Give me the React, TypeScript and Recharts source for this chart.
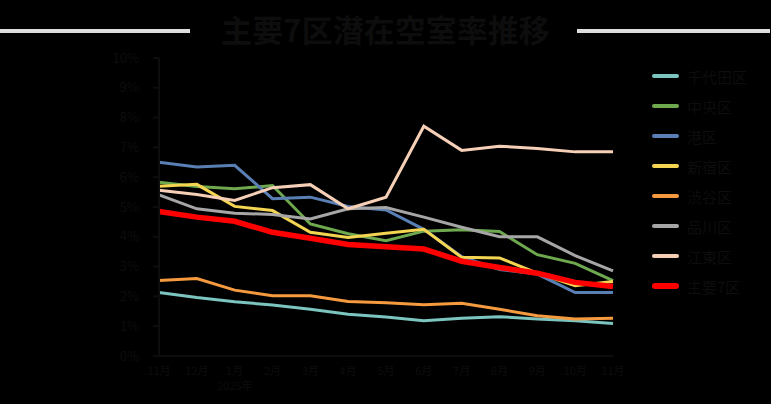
import { LineChart, Line, XAxis, YAxis } from "recharts";

const months = ["11月", "12月", "1月", "2月", "3月", "4月", "5月", "6月", "7月", "8月", "9月", "10月", "11月"];
const yearLabel = "2025年";
const yTicks = [0, 1, 2, 3, 4, 5, 6, 7, 8, 9, 10];

const chiyoda = [2.13, 1.96, 1.82, 1.71, 1.57, 1.4, 1.31, 1.18, 1.27, 1.32, 1.24, 1.18, 1.09];
const chuo = [5.83, 5.69, 5.61, 5.72, 4.43, 4.1, 3.87, 4.19, 4.24, 4.18, 3.4, 3.11, 2.53];
const minato = [6.5, 6.34, 6.4, 5.28, 5.33, 5.02, 4.9, 4.25, 3.33, 2.9, 2.75, 2.13, 2.13];
const shinjuku = [5.7, 5.76, 5.02, 4.88, 4.15, 3.98, 4.12, 4.25, 3.31, 3.29, 2.78, 2.36, 2.5];
const shibuya = [2.53, 2.6, 2.21, 2.02, 2.02, 1.83, 1.79, 1.72, 1.77, 1.57, 1.35, 1.24, 1.27];
const shinagawa = [5.41, 4.94, 4.79, 4.75, 4.6, 4.94, 4.98, 4.66, 4.32, 4.0, 4.0, 3.37, 2.86];
const koto = [5.56, 5.42, 5.22, 5.65, 5.75, 4.94, 5.33, 7.71, 6.9, 7.04, 6.96, 6.85, 6.85];
const major7 = [4.85, 4.66, 4.52, 4.15, 3.95, 3.74, 3.67, 3.59, 3.18, 2.97, 2.78, 2.47, 2.33];

const series = [
  { key: "千代田区", values: chiyoda, color: "#7cc4bf", width: 3 },
  { key: "中央区", values: chuo, color: "#6ea94f", width: 3 },
  { key: "港区", values: minato, color: "#5a7fb4", width: 3 },
  { key: "新宿区", values: shinjuku, color: "#f3d551", width: 3 },
  { key: "渋谷区", values: shibuya, color: "#f59a3e", width: 3 },
  { key: "品川区", values: shinagawa, color: "#a6a6a6", width: 3 },
  { key: "江東区", values: koto, color: "#f6cfb7", width: 3 },
  { key: "主要7区", values: major7, color: "#ff0000", width: 5.5 },
];

const data = months.map((m, i) => {
  const row: Record<string, string | number> = { month: m };
  series.forEach((s) => {
    row[s.key] = s.values[i];
  });
  return row;
});

const FONT = "'Noto Sans CJK JP', 'Noto Sans', sans-serif";
const TEXT = "#0d0d0d";

function MonthTick(props: any) {
  const { x, y, payload, index } = props;
  return (
    <g>
      <text x={x} y={y + 11} textAnchor="middle" fill={TEXT} fontSize={11} fontFamily={FONT}>
        {payload.value}
      </text>
      {index === 2 && (
        <text x={x} y={y + 26} textAnchor="middle" fill={TEXT} fontSize={11} fontFamily={FONT}>
          {yearLabel}
        </text>
      )}
    </g>
  );
}

function LegendBox() {
  return (
    <div style={{ position: "absolute", left: 652, top: 61, fontFamily: FONT }}>
      {series.map((s) => (
        <div key={s.key} style={{ display: "flex", alignItems: "center", height: 30 }}>
          <div
            style={{
              width: 27,
              height: s.width === 3 ? 4 : 6,
              borderRadius: 3,
              background: s.color,
              marginRight: 8,
            }}
          />
          <span style={{ color: TEXT, fontSize: 15 }}>{s.key}</span>
        </div>
      ))}
    </div>
  );
}

export default function App() {
  return (
    <div
      style={{
        position: "fixed",
        left: 0,
        top: 0,
        width: 771,
        height: 404,
        background: "#000",
        overflow: "hidden",
      }}
    >
      <div style={{ position: "absolute", left: 0, top: 29, width: 190, height: 4, background: "#dedede" }} />
      <div style={{ position: "absolute", left: 577, top: 29, width: 193, height: 4, background: "#dedede" }} />
      <div
        style={{
          position: "absolute",
          left: 0,
          top: 7,
          width: 771,
          textAlign: "center",
          fontFamily: FONT,
          fontWeight: 700,
          fontSize: 31,
          color: TEXT,
          lineHeight: "44px",
        }}
      >
        主要7区潜在空室率推移
      </div>
      <LineChart
        width={771}
        height={404}
        data={data}
        margin={{ top: 58, right: 158, left: 0, bottom: 0 }}
      >
        <XAxis
          dataKey="month"
          stroke={TEXT}
          strokeWidth={2}
          tickLine={false}
          tick={<MonthTick />}
          interval={0}
          height={48}
        />
        <YAxis
          width={159}
          domain={[0, 10]}
          ticks={yTicks}
          tickFormatter={(v: number) => `${v}%`}
          stroke={TEXT}
          strokeWidth={2}
          tickSize={6}
          tickMargin={14}
          tick={{ fill: TEXT, fontSize: 13, fontFamily: FONT }}
        />
        {series.map((s) => (
          <Line
            key={s.key}
            type="linear"
            dataKey={s.key}
            stroke={s.color}
            strokeWidth={s.width}
            dot={false}
            isAnimationActive={false}
          />
        ))}
      </LineChart>
      <LegendBox />
    </div>
  );
}
